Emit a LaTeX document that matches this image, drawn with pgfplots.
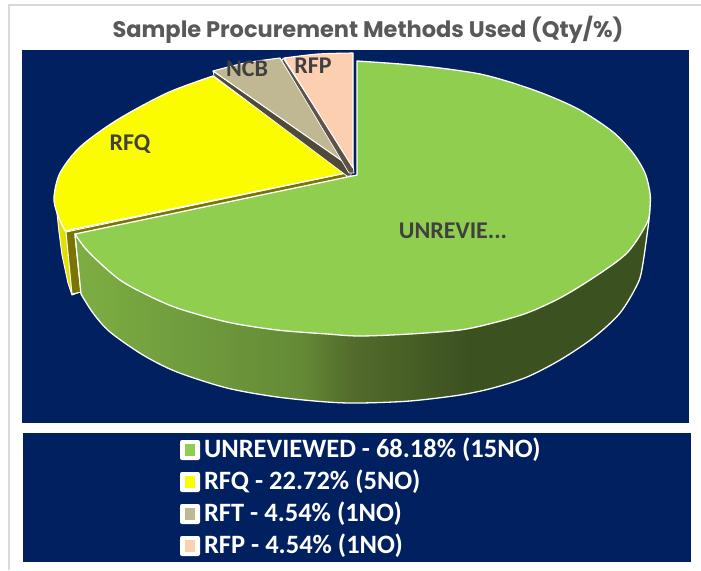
\documentclass[border=0pt]{standalone}
\usepackage{fontspec}
\setmainfont{Carlito}
\newfontfamily\titlefont{Poppins}
\usepackage{pgfplots}
\pgfplotsset{compat=1.18}
\definecolor{navy}{HTML}{002060}
\definecolor{gtop}{HTML}{90CE50}
\definecolor{ylw}{HTML}{FCFC00}
\definecolor{ylws}{HTML}{E3E000}
\definecolor{olv}{HTML}{7A7400}
\definecolor{ncb}{HTML}{BFB892}
\definecolor{rfp}{HTML}{FBCFB0}
\definecolor{ncbd}{HTML}{4F4A3A}
\definecolor{rfpd}{HTML}{5F5248}
\definecolor{s1}{HTML}{7DAE42}
\definecolor{s2}{HTML}{6E9A3C}
\definecolor{s3}{HTML}{648A36}
\definecolor{s4}{HTML}{536B2B}
\definecolor{s5}{HTML}{3C5120}
\definecolor{txt}{HTML}{404040}
\pgfdeclarehorizontalshading{greenside}{100bp}{color(0bp)=(s1); color(25bp)=(s1); color(35.9bp)=(s2); color(44.6bp)=(s3); color(49.1bp)=(s4); color(59.2bp)=(s5); color(100bp)=(s5)}
\begin{document}
\begin{tikzpicture}
\begin{axis}[hide axis, scale only axis, width=701pt, height=570pt,
  xmin=0, xmax=701, ymin=0, ymax=570, y dir=reverse, no markers, clip=true]
% page, frame
\addplot[fill=white, draw=none] coordinates {(0,0) (701,0) (701,570) (0,570)} --cycle;
\addplot[draw=black!15, line width=1.5pt] coordinates {(9,570) (9,5) (701,5)};
% navy panels
\addplot[fill=navy, draw=none] coordinates {(22,50) (689,50) (689,423) (22,423)} --cycle;
\addplot[fill=navy, draw=none] coordinates {(23,433) (691,433) (691,562) (23,562)} --cycle;
% yellow side
\addplot[fill=ylws, draw=white, line width=1pt, line join=round] coordinates {(57,213) (59,232) (62,255) (68,283) (72,295) (80,292) (70,228)} --cycle;
\addplot[fill=olv, draw=white, line width=1pt, line join=round] coordinates {(66,232) (72,294) (81,292) (75,236) (347,178) (346,173)} --cycle;
% yellow top
\addplot[smooth, fill=ylw, draw=white, line width=1.3pt, line join=round] coordinates {(65,231) (57,213) (54,197) (60,173) (80,147) (117,120) (167,93) (213,76)} -- (axis cs:346,173) -- cycle;
% NCB dark edge and top
\addplot[fill=ncbd, draw=white, line width=.7pt, line join=round] coordinates {(213,71) (214,76) (347,176) (351,176) (351,166)} --cycle;
\addplot[smooth, fill=ncb, draw=white, line width=1.1pt, line join=round] coordinates {(213,71) (245,63) (280,58)} -- (axis cs:348,165) -- cycle;
% RFP dark edge and top
\addplot[fill=rfpd, draw=white, line width=.7pt, line join=round] coordinates {(283,58) (282,61) (349,173) (354,173) (353,165)} --cycle;
\addplot[smooth, fill=rfp, draw=white, line width=1.1pt, line join=round] coordinates {(284,58) (318,54) (353,53)} -- (axis cs:353,168) -- cycle;
% green side
\addplot[smooth, shading=greenside, draw=white, line width=1.3pt, line join=round] coordinates {(81,294) (93,313) (110,332) (143,355) (177,372) (227,388) (277,397) (327,402) (360,403) (410,401) (460,395) (493,388) (527,377) (560,360) (593,338) (620,313) (638,283) (643,263) (649,220)} -- (axis cs:650,205) -- (axis cs:360,250) -- (axis cs:75,234) -- cycle;
% green top
\addplot[smooth, fill=gtop, draw=white, line width=1.3pt, line join=round] coordinates {(357,61) (400,64) (440,68) (480,74) (513,83) (547,95) (580,110) (613,132) (633,153) (645,173) (650,193) (650,207) (647,223) (627,253) (593,278) (560,298) (527,313) (493,323) (460,330) (410,334) (360,336) (327,334) (277,330) (227,322) (177,308) (143,293) (120,280) (100,263) (85,248) (75,234)} -- (axis cs:357,175) -- cycle;
% data labels
\node[font=\fontsize{24}{24}\selectfont\bfseries, text=txt] at (axis cs:130,144) {RFQ};
\node[font=\fontsize{24}{24}\selectfont\bfseries, text=txt] at (axis cs:247,69) {NCB};
\node[font=\fontsize{24}{24}\selectfont\bfseries, text=txt] at (axis cs:313,66) {RFP};
\node[font=\fontsize{24}{24}\selectfont\bfseries, text=txt] at (axis cs:453,231) {UNREVIE...};
% title
\node[font=\titlefont\fontsize{22.5}{22.5}\selectfont\bfseries, text=black!65] at (axis cs:368,30) {Sample Procurement Methods Used (Qty/\%)};
% legend markers
\addplot[fill=white, draw=none, rounded corners=2pt] coordinates {(180,440) (200,440) (200,460) (180,460)} --cycle;
\addplot[fill=gtop, draw=none] coordinates {(185,444) (195,444) (195,456) (185,456)} --cycle;
\addplot[fill=white, draw=none, rounded corners=2pt] coordinates {(180,472) (200,472) (200,492) (180,492)} --cycle;
\addplot[fill=ylw, draw=none] coordinates {(185,476) (195,476) (195,488) (185,488)} --cycle;
\addplot[fill=white, draw=none, rounded corners=2pt] coordinates {(180,504) (200,504) (200,524) (180,524)} --cycle;
\addplot[fill=ncb, draw=none] coordinates {(185,508) (195,508) (195,520) (185,520)} --cycle;
\addplot[fill=white, draw=none, rounded corners=2pt] coordinates {(180,536) (200,536) (200,556) (180,556)} --cycle;
\addplot[fill=rfp, draw=none] coordinates {(185,540) (195,540) (195,552) (185,552)} --cycle;
% legend text
\node[anchor=base west, font=\fontsize{26.5}{26.5}\selectfont\bfseries, text=white] at (axis cs:200.5,457) {UNREVIEWED - 68.18\% (15NO)};
\node[anchor=base west, font=\fontsize{26.5}{26.5}\selectfont\bfseries, text=white] at (axis cs:200.5,489) {RFQ - 22.72\% (5NO)};
\node[anchor=base west, font=\fontsize{26.5}{26.5}\selectfont\bfseries, text=white] at (axis cs:200.5,521) {RFT - 4.54\% (1NO)};
\node[anchor=base west, font=\fontsize{26.5}{26.5}\selectfont\bfseries, text=white] at (axis cs:200.5,553) {RFP - 4.54\% (1NO)};
\end{axis}
\end{tikzpicture}
\end{document}
